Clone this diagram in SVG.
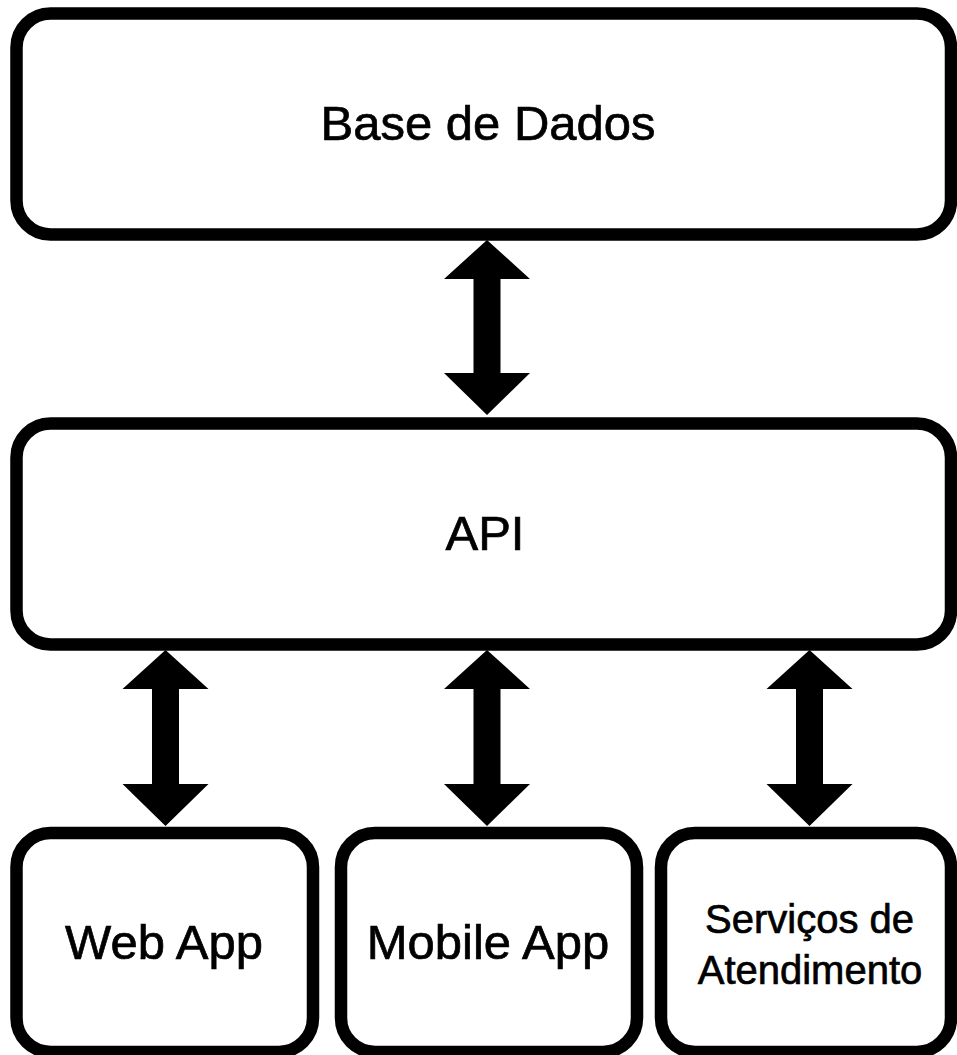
<svg xmlns="http://www.w3.org/2000/svg" width="957" height="1055" viewBox="0 0 957 1055">
<style>
.box{fill:#fff;stroke:#000;stroke-width:12.5}
.lbl{font-family:"Liberation Sans",Arial,sans-serif;fill:#000;stroke:#000;stroke-width:0.7;text-anchor:middle}
.arr{fill:#000;stroke:none}
</style>
<rect width="957" height="1055" fill="#fff"/>
<g id="base-de-dados">
<rect class="box" x="16.5" y="13.5" width="934.5" height="221" rx="34"/>
<text class="lbl" x="488" y="140" font-size="49">Base de Dados</text>
</g>
<g id="api">
<rect class="box" x="16.5" y="423.5" width="934.5" height="221" rx="34"/>
<text class="lbl" x="485" y="550" font-size="49">API</text>
</g>
<g id="web-app">
<rect class="box" x="16.5" y="833" width="296.5" height="219" rx="34"/>
<text class="lbl" x="164" y="959" font-size="49">Web App</text>
</g>
<g id="mobile-app">
<rect class="box" x="341" y="833" width="296" height="219" rx="34"/>
<text class="lbl" x="488" y="959" font-size="49">Mobile App</text>
</g>
<g id="servicos-de-atendimento">
<rect class="box" x="661" y="833" width="290" height="219" rx="34"/>
<text class="lbl" x="809.5" y="933" font-size="40">Serviços de</text>
<text class="lbl" x="810" y="984" font-size="40">Atendimento</text>
</g>
<g id="connectors">
<polygon class="arr" points="487,240 530,279 500.5,279 500.5,373 530,373 487,415 444,373 473.5,373 473.5,279 444,279"/>
<polygon class="arr" points="165.5,650 208.5,689 179,689 179,784 208.5,784 165.5,826 122.5,784 152,784 152,689 122.5,689"/>
<polygon class="arr" points="487,650 530,689 500.5,689 500.5,784 530,784 487,826 444,784 473.5,784 473.5,689 444,689"/>
<polygon class="arr" points="809.5,650 852.5,689 823,689 823,784 852.5,784 809.5,826 766.5,784 796,784 796,689 766.5,689"/>
</g>
</svg>
